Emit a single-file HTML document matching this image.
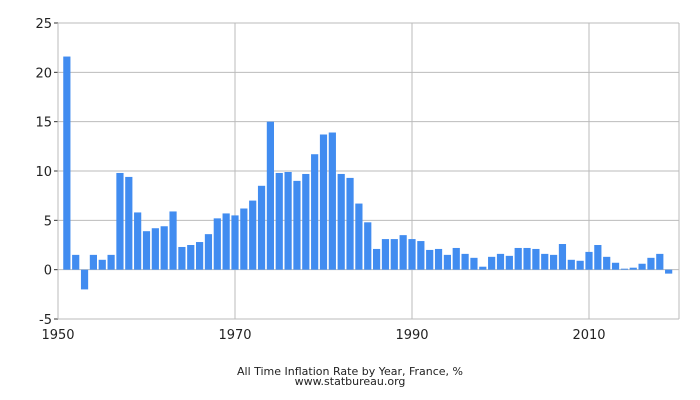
<!DOCTYPE html>
<html><head><meta charset="utf-8"><style>
html,body{margin:0;padding:0;background:#fff;width:700px;height:400px;overflow:hidden}
svg{display:block;font-family:"DejaVu Sans","Liberation Sans",sans-serif}
</style></head><body>
<svg id="chart" width="700" height="400">
<g id="grid"></g>
<g id="bars"></g>
<g id="axes"></g>
<text x="350" y="375" text-anchor="middle" font-size="11" fill="#222">All Time Inflation Rate by Year, France, %</text>
<text x="350" y="385" text-anchor="middle" font-size="11" fill="#222">www.statbureau.org</text>
</svg>
<script>
const years = [1951,1952,1953,1954,1955,1956,1957,1958,1959,1960,1961,1962,1963,1964,1965,1966,1967,1968,1969,1970,1971,1972,1973,1974,1975,1976,1977,1978,1979,1980,1981,1982,1983,1984,1985,1986,1987,1988,1989,1990,1991,1992,1993,1994,1995,1996,1997,1998,1999,2000,2001,2002,2003,2004,2005,2006,2007,2008,2009,2010,2011,2012,2013,2014,2015,2016,2017,2018,2019];
const values = [21.6,1.5,-2.0,1.5,1.0,1.5,9.8,9.4,5.8,3.9,4.2,4.4,5.9,2.3,2.5,2.8,3.6,5.2,5.7,5.5,6.2,7.0,8.5,15.0,9.8,9.9,9.0,9.7,11.7,13.7,13.9,9.7,9.3,6.7,4.8,2.1,3.1,3.1,3.5,3.1,2.9,2.0,2.1,1.5,2.2,1.6,1.2,0.3,1.3,1.6,1.4,2.2,2.2,2.1,1.6,1.5,2.6,1.0,0.9,1.8,2.5,1.3,0.7,0.1,0.2,0.6,1.2,1.6,-0.4];
const yTicks = [-5,0,5,10,15,20,25];
const xTicks = [1950,1970,1990,2010];
const NS='http://www.w3.org/2000/svg';
const L=58,R=679,T=23,B=319;
const xs=y=>L+(y-1950)*(R-L)/(2020.17-1950);
const ys=v=>B-(v+5)*(B-T)/30;
function mk(t,a,p){const e=document.createElementNS(NS,t);for(const k in a)e.setAttribute(k,a[k]);p.appendChild(e);return e;}
const grid=document.getElementById('grid'),bars=document.getElementById('bars'),axes=document.getElementById('axes');
yTicks.forEach(v=>{
  const g=mk('line',{x1:L,x2:R,y1:ys(v),y2:ys(v),stroke:'#bbb','stroke-width':1},grid);
  
  
  const tk=mk('line',{x1:L-4,x2:L,y1:ys(v),y2:ys(v),stroke:'#333','stroke-width':1},axes);
  
  
  const t=mk('text',{x:L-6,y:ys(v)+5,'text-anchor':'end','font-size':13,fill:'#222'},axes);
  t.textContent=v;
  
  
});
xTicks.forEach(y=>{
  if(y>1950){const g=mk('line',{x1:xs(y),x2:xs(y),y1:T,y2:B,stroke:'#bbb','stroke-width':1},grid);
  
  }
  const t=mk('text',{x:xs(y),y:B+20,'text-anchor':'middle','font-size':13,fill:'#222'},axes);
  t.textContent=y;
  
  
});
const rg=mk('line',{x1:R,x2:R,y1:T,y2:B,stroke:'#bbb','stroke-width':1},grid);


const ax=mk('line',{x1:L,x2:L,y1:T,y2:B,stroke:'#bbb','stroke-width':1},axes);


years.forEach((y,i)=>{
  const v=values[i],y0=ys(0),y1=ys(v);
  const r=mk('rect',{x:xs(y)-3.6,width:7.2,y:Math.min(y0,y1),height:Math.abs(y1-y0),fill:'#418cf0'},bars);
  
  
});
</script>
</body></html>
